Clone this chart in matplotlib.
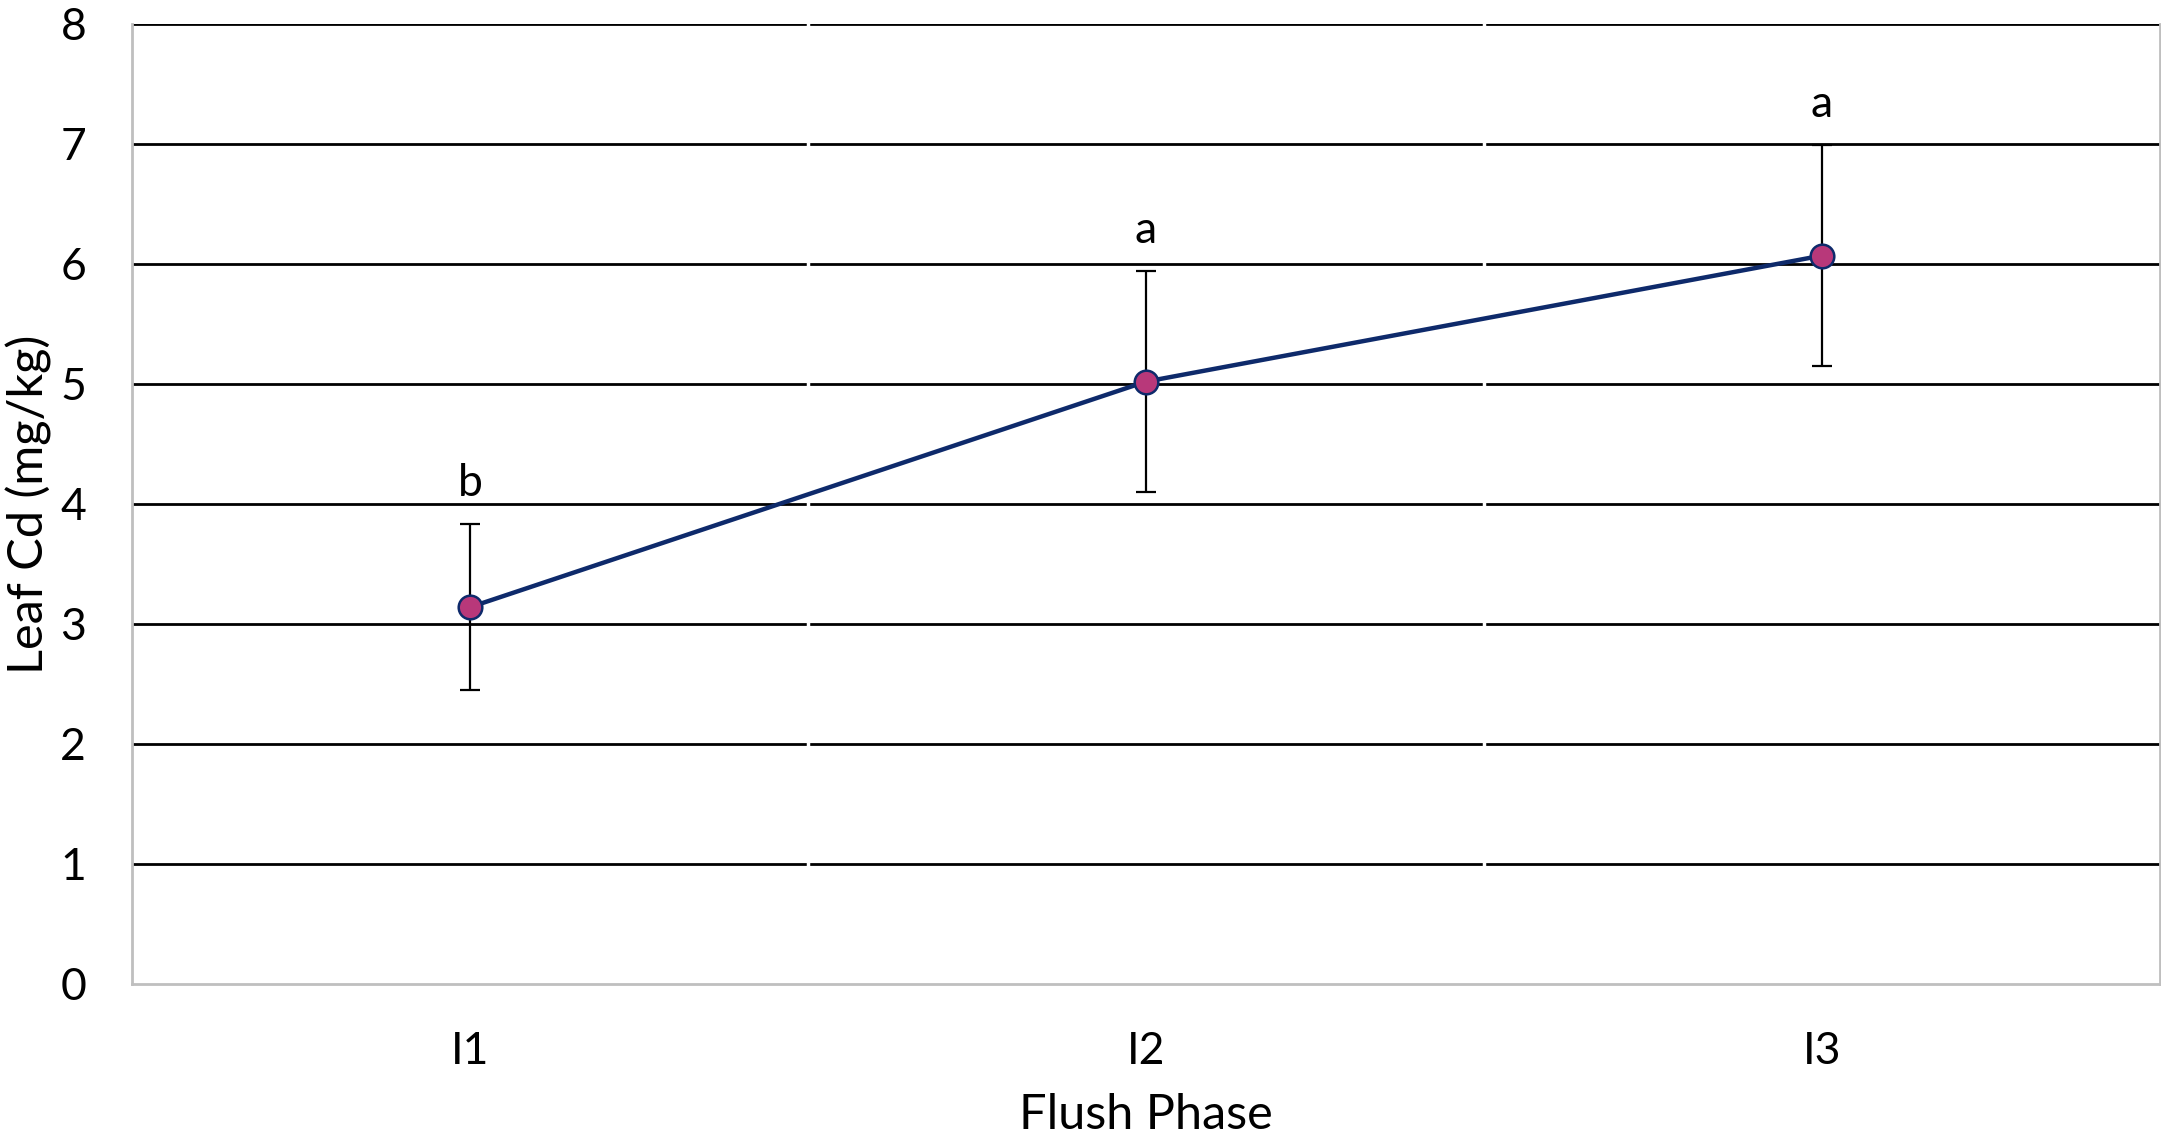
import matplotlib
matplotlib.use("Agg")
import matplotlib.pyplot as plt

categories = ["I1", "I2", "I3"]
means = [3.14, 5.02, 6.07]
errors = [0.69, 0.92, 0.92]
letters = ["b", "a", "a"]
yticks = [0, 1, 2, 3, 4, 5, 6, 7, 8]

plt.rcParams['font.family'] = ['Lato', 'DejaVu Sans']

W, H, DPI = 2161, 1135, 100
fig = plt.figure(figsize=(W / DPI, H / DPI), dpi=DPI)
axw = 2160 - 132
ax = fig.add_axes([132 / W, 1 - 984 / H, axw / W, 960 / H])

x = [i + 0.5 for i in range(len(categories))]
ax.set_xlim(0, 3)
ax.set_ylim(0, 8)

for y in yticks[1:]:
    ax.axhline(y, color='black', lw=2.0, zorder=1)
for b in [1, 2]:
    ax.axvline(b, color='white', lw=2.5, zorder=1.5)

ax.errorbar(x, means, yerr=errors, fmt='none', ecolor='black', elinewidth=1.6,
            capsize=7, capthick=1.6, zorder=2)
ax.plot(x, means, color='#0E2A6B', lw=3.2, zorder=3,
        marker='o', markersize=17, markerfacecolor='#B8387A',
        markeredgecolor='#0E2A6B', markeredgewidth=1.8)

for xi, m, e, l in zip(x, means, errors, letters):
    ax.text(xi, m + e + 0.17, l, ha='center', va='bottom', fontsize=32, color='black')

ax.set_yticks(yticks)
ax.set_yticklabels([str(v) for v in yticks])
ax.set_xticks(x)
ax.set_xticklabels(categories)
ax.tick_params(axis='both', length=0, labelsize=32, colors='black')
ax.tick_params(axis='y', pad=33)
ax.tick_params(axis='x', pad=34)

ax.spines['top'].set_visible(False)
for s in ['left', 'bottom', 'right']:
    ax.spines[s].set_color('#BFBFBF')
    ax.spines[s].set_linewidth(2)

ax.set_xlabel("Flush Phase", fontsize=35, labelpad=15)
ax.set_ylabel("Leaf Cd (mg/kg)", fontsize=35)
ax.yaxis.set_label_coords((52 - 132) / axw, 0.5)

fig.savefig("out.png", dpi=DPI, facecolor='white')
